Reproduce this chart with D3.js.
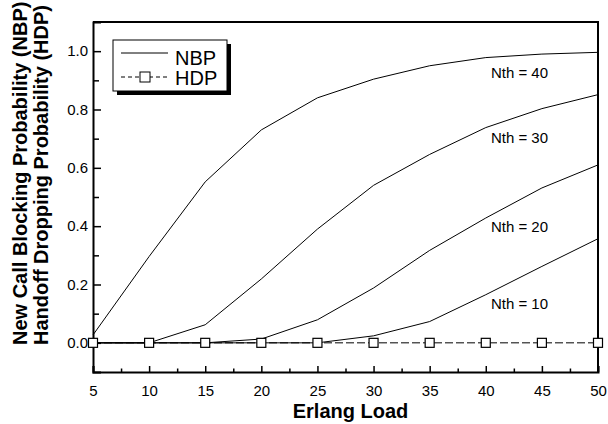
<!DOCTYPE html>
<html lang="en">
<head>
    <meta charset="UTF-8">
    <title>Blocking / Dropping Probability</title>
    <script src="https://d3js.org/d3.v7.min.js"></script>
    <style>
        body { margin: 0; background: white; }
        text { font-family: "Liberation Sans", Arial, sans-serif; }
    </style>
</head>
<body>
<svg id="main" width="608" height="424"></svg>
<script>
    // data
    let loads = [5, 10, 15, 20, 25, 30, 35, 40, 45, 50];
    let nbp40 = [0.027, 0.296, 0.552, 0.730, 0.840, 0.904, 0.950, 0.978, 0.990, 0.996];
    let nbp30 = [0.0, 0.0, 0.062, 0.219, 0.390, 0.540, 0.646, 0.738, 0.803, 0.851];
    let nbp20 = [0.0, 0.0, 0.0, 0.013, 0.079, 0.188, 0.317, 0.428, 0.531, 0.610];
    let nbp10 = [0.0, 0.0, 0.0, 0.0, 0.0, 0.024, 0.073, 0.165, 0.262, 0.357];
    let hdp = [0, 0, 0, 0, 0, 0, 0, 0, 0, 0];
    let curveNames = ["Nth = 40", "Nth = 30", "Nth = 20", "Nth = 10"];
    let xTicks = [5, 10, 15, 20, 25, 30, 35, 40, 45, 50];
    let yTicks = [0.0, 0.2, 0.4, 0.6, 0.8, 1.0];

    let svg = d3.select('svg#main');
    let margins = {left: 93, right: 10, top: 22, bottom: 52};
    let W = 608, H = 424;
    let xRng = [margins.left, W - margins.right];
    let yRng = [H - margins.bottom, margins.top];

    let x = d3.scaleLinear().domain([5, 50]).range(xRng);
    let y = d3.scaleLinear().domain([-0.1, 1.1]).range(yRng);

    //NBP curves
    let line = d3.line()
        .x(function (d){return x(d[0])})
        .y(function (d){return y(d[1])});
    let series = [nbp40, nbp30, nbp20, nbp10];
    svg.append('g').selectAll('path.nbp')
        .data(series)
        .enter()
        .append('path')
        .attr('class', 'nbp')
        .attr('d', function (s){return line(loads.map(function (l, i){return [l, s[i]]}))})
        .style('fill', 'none')
        .style('stroke', 'black')
        .style('stroke-width', '1px');

    //curve labels (placed in data units)
    let labelX = 43;
    let labelY = [0.908, 0.685, 0.38, 0.116];
    svg.append('g').selectAll('text')
        .data(curveNames)
        .enter()
        .append('text')
        .attr('x', x(labelX))
        .attr('y', function (d, i){return y(labelY[i])})
        .attr('text-anchor', 'middle')
        .style('font-size', '15px')
        .text(function (d){return d});

    //HDP dashed line + square markers
    let hdpPts = loads.map(function (l, i){return [l, hdp[i]]});
    svg.append('path')
        .attr('d', line(hdpPts))
        .style('fill', 'none')
        .style('stroke', 'black')
        .style('stroke-width', '1px')
        .style('stroke-dasharray', '8,3');

    //axes
    let xAxis = svg.append('g')
        .attr('transform', 'translate(0,' + yRng[0] + ')')
        .call(d3.axisBottom(x).tickValues(xTicks).tickSize(-6).tickPadding(13).tickFormat(d3.format('d')));
    svg.append('g')
        .attr('transform', 'translate(0,' + yRng[0] + ')')
        .call(d3.axisBottom(x).tickValues(d3.range(7.5, 50, 5)).tickSize(-3.5).tickFormat(''))
        .select('.domain').remove();
    let yAxis = svg.append('g')
        .attr('transform', 'translate(' + xRng[0] + ',0)')
        .call(d3.axisLeft(y).tickValues(yTicks).tickSize(-8).tickPadding(5).tickFormat(d3.format('.1f')));
    svg.append('g')
        .attr('transform', 'translate(' + xRng[0] + ',0)')
        .call(d3.axisLeft(y).tickValues(d3.range(0.1, 1.0, 0.2)).tickSize(-6).tickFormat(''))
        .select('.domain').remove();

    svg.selectAll('.domain').style('stroke-width', '2px');
    svg.selectAll('.tick line').style('stroke-width', '1.5px');
    svg.selectAll('.tick text')
        .style('font-size', '15px')
        .style('font-family', '"Liberation Sans", Arial, sans-serif')
        .attr('fill', 'black');
    xAxis.selectAll('.tick text').attr('dy', '0.71em');

    //frame top + right
    svg.append('path')
        .attr('d', 'M' + xRng[0] + ',' + yRng[1] + 'H' + xRng[1] + 'V' + yRng[0])
        .style('fill', 'none')
        .style('stroke', 'black')
        .style('stroke-width', '2px');

    //markers on top
    svg.append('g').selectAll('rect')
        .data(hdpPts)
        .enter()
        .append('rect')
        .attr('x', function (d){return x(d[0]) - 4.5})
        .attr('y', function (d){return y(d[1]) - 4.5})
        .attr('width', 9)
        .attr('height', 9)
        .style('fill', 'white')
        .style('stroke', 'black')
        .style('stroke-width', '1.2px');

    //axis titles
    svg.append('text')
        .attr('x', (xRng[0] + xRng[1]) / 2 + 5)
        .attr('y', 418)
        .attr('text-anchor', 'middle')
        .style('font-size', '20px')
        .style('font-weight', 'bold')
        .text('Erlang Load');
    let yTitle = ['New Call Blocking Probability (NBP)', 'Handoff Dropping Probability (HDP)'];
    let yTitleX = [27, 48];
    svg.append('g').selectAll('text')
        .data(yTitle)
        .enter()
        .append('text')
        .attr('transform', function (d, i){return 'translate(' + yTitleX[i] + ',345) rotate(-90)'})
        .style('font-size', '20px')
        .style('font-weight', 'bold')
        .text(function (d){return d});

    //legend
    let leg = svg.append('g').attr('transform', 'translate(113,40)');
    leg.append('rect').attr('x', 4).attr('y', 4).attr('width', 114).attr('height', 51).style('fill', 'black');
    leg.append('rect').attr('width', 114).attr('height', 51)
        .style('fill', 'white').style('stroke', 'black').style('stroke-width', '1px');
    leg.append('line').attr('x1', 8).attr('x2', 55).attr('y1', 13).attr('y2', 13)
        .style('stroke', 'black').style('stroke-width', '1px');
    leg.append('line').attr('x1', 8).attr('x2', 55).attr('y1', 37).attr('y2', 37)
        .style('stroke', 'black').style('stroke-width', '1px').style('stroke-dasharray', '4,3');
    leg.append('rect').attr('x', 27).attr('y', 32).attr('width', 10).attr('height', 10)
        .style('fill', 'white').style('stroke', 'black').style('stroke-width', '1px');
    leg.append('text').attr('x', 62).attr('y', 25).style('font-size', '20px').text('NBP');
    leg.append('text').attr('x', 62).attr('y', 45).style('font-size', '20px').text('HDP');
</script>
</body>
</html>
